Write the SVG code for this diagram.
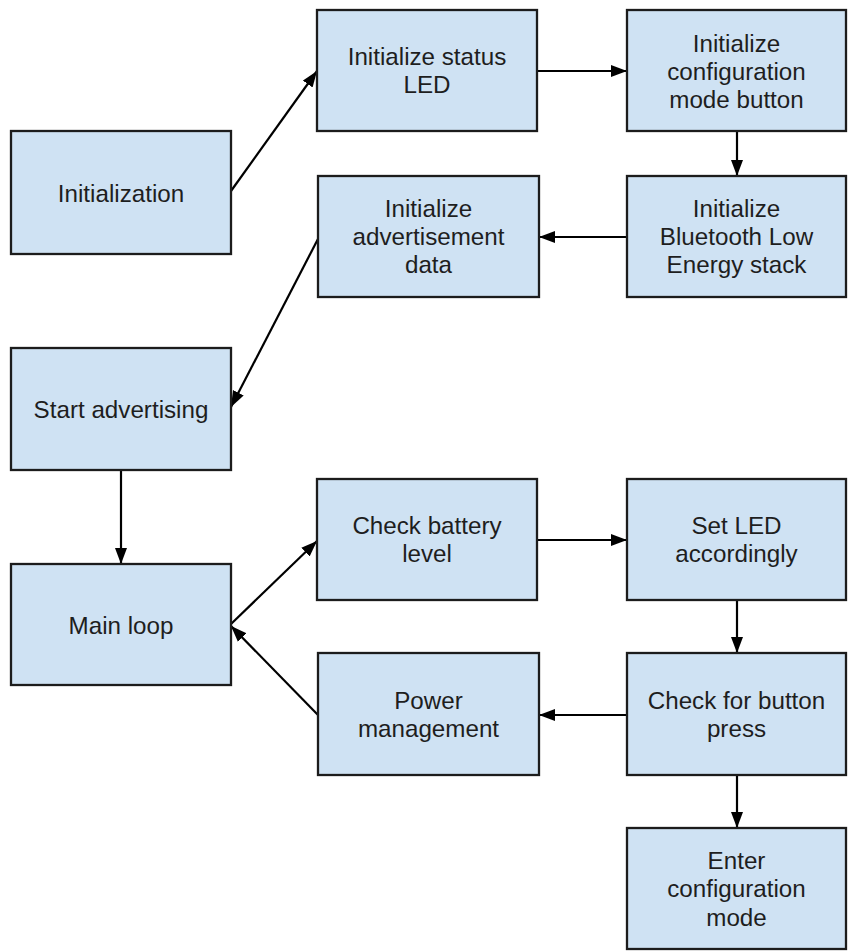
<svg xmlns="http://www.w3.org/2000/svg" width="848" height="951" viewBox="0 0 848 951">
  <style>
    .box { fill: #cfe2f3; stroke: #1c1c1c; stroke-width: 2.3; }
    .lbl { font-family: "Liberation Sans", Arial, sans-serif; font-size: 24.2px; fill: #1e1e1e; text-anchor: middle; }
    .edge { stroke: #000; stroke-width: 2.2; fill: none; marker-end: url(#arrow); }
  </style>
  <defs>
    <marker id="arrow" markerUnits="userSpaceOnUse" markerWidth="17" markerHeight="13" refX="16" refY="6.5" orient="auto">
      <path d="M0,0.5 L16,6.5 L0,12.5 z" fill="#000"/>
    </marker>
  </defs>
  <rect width="848" height="951" fill="#fff"/>

  <g id="connectors">
    <line class="edge" x1="231" y1="191" x2="317" y2="71"/>
    <line class="edge" x1="537" y1="71" x2="627" y2="71"/>
    <line class="edge" x1="737" y1="131" x2="737" y2="176"/>
    <line class="edge" x1="627" y1="237" x2="539" y2="237"/>
    <line class="edge" x1="319" y1="237" x2="231" y2="407"/>
    <line class="edge" x1="121" y1="470" x2="121" y2="564"/>
    <line class="edge" x1="231" y1="624" x2="317" y2="541"/>
    <line class="edge" x1="537" y1="540" x2="627" y2="540"/>
    <line class="edge" x1="737" y1="600" x2="737" y2="653"/>
    <line class="edge" x1="627" y1="715" x2="539" y2="715"/>
    <line class="edge" x1="318" y1="715" x2="231" y2="626"/>
    <line class="edge" x1="737" y1="775" x2="737" y2="828"/>
  </g>

  <g id="initialization">
    <rect class="box" x="11" y="131" width="220" height="123"/>
    <text class="lbl" x="121" y="201.5">Initialization</text>
  </g>
  <g id="init-status-led">
    <rect class="box" x="317" y="10" width="220" height="121"/>
    <text class="lbl" x="427" y="65">Initialize status</text>
    <text class="lbl" x="427" y="93.3">LED</text>
  </g>
  <g id="init-config-button">
    <rect class="box" x="627" y="10" width="219" height="121"/>
    <text class="lbl" x="736.5" y="51.7">Initialize</text>
    <text class="lbl" x="736.5" y="80">configuration</text>
    <text class="lbl" x="736.5" y="108.3">mode button</text>
  </g>
  <g id="init-ble-stack">
    <rect class="box" x="627" y="176" width="219" height="121"/>
    <text class="lbl" x="736.5" y="216.7">Initialize</text>
    <text class="lbl" x="736.5" y="245">Bluetooth Low</text>
    <text class="lbl" x="736.5" y="273.3">Energy stack</text>
  </g>
  <g id="init-adv-data">
    <rect class="box" x="318" y="176" width="221" height="121"/>
    <text class="lbl" x="428.5" y="216.7">Initialize</text>
    <text class="lbl" x="428.5" y="245">advertisement</text>
    <text class="lbl" x="428.5" y="273.3">data</text>
  </g>
  <g id="start-advertising">
    <rect class="box" x="11" y="348" width="220" height="122"/>
    <text class="lbl" x="121" y="418">Start advertising</text>
  </g>
  <g id="main-loop">
    <rect class="box" x="11" y="564" width="220" height="121"/>
    <text class="lbl" x="121" y="633.5">Main loop</text>
  </g>
  <g id="check-battery">
    <rect class="box" x="317" y="479" width="220" height="121"/>
    <text class="lbl" x="427" y="534">Check battery</text>
    <text class="lbl" x="427" y="562.3">level</text>
  </g>
  <g id="set-led">
    <rect class="box" x="627" y="479" width="219" height="121"/>
    <text class="lbl" x="736.5" y="534">Set LED</text>
    <text class="lbl" x="736.5" y="562.3">accordingly</text>
  </g>
  <g id="check-button">
    <rect class="box" x="627" y="653" width="219" height="122"/>
    <text class="lbl" x="736.5" y="708.5">Check for button</text>
    <text class="lbl" x="736.5" y="736.8">press</text>
  </g>
  <g id="power-management">
    <rect class="box" x="318" y="653" width="221" height="122"/>
    <text class="lbl" x="428.5" y="708.5">Power</text>
    <text class="lbl" x="428.5" y="736.8">management</text>
  </g>
  <g id="enter-config-mode">
    <rect class="box" x="627" y="828" width="219" height="121"/>
    <text class="lbl" x="736.5" y="869">Enter</text>
    <text class="lbl" x="736.5" y="897.3">configuration</text>
    <text class="lbl" x="736.5" y="925.6">mode</text>
  </g>
</svg>
